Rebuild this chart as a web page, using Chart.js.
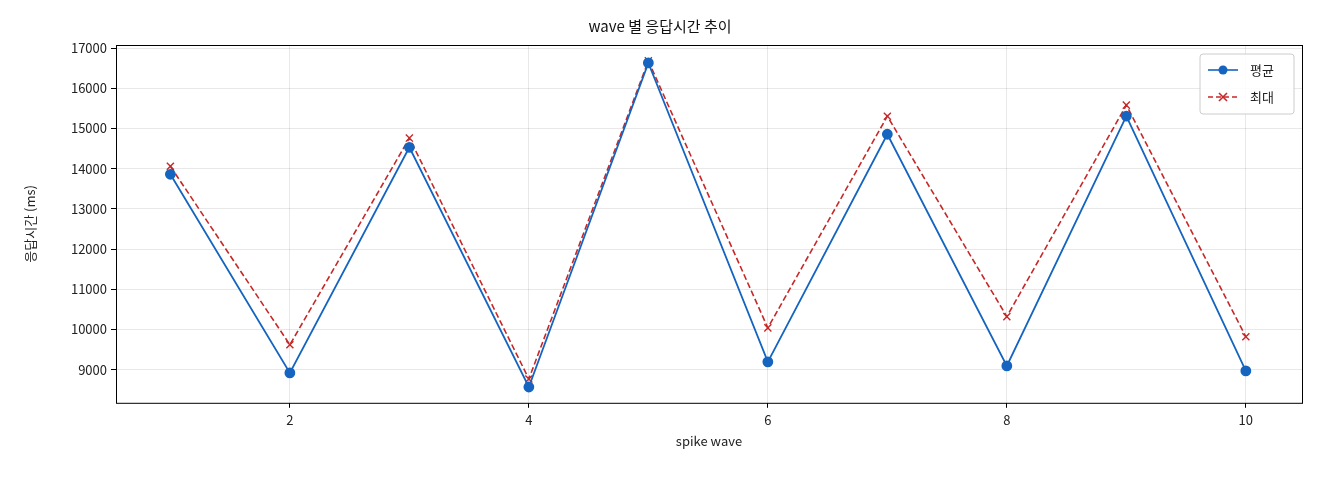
<!DOCTYPE html>
<html><head><meta charset="utf-8">
<script src="https://cdn.jsdelivr.net/npm/chart.js@4"></script>
<style>html,body{margin:0;background:#fff}#w{width:1320px;height:480px}</style>
</head><body><div id="w"><canvas id="c"></canvas></div>
<script>
const waves=[1,2,3,4,5,6,7,8,9,10];
const avgVals=[13860,8920,14530,8570,16630,9195,14855,9095,15305,8970];
const maxVals=[14060,9620,14760,8770,16680,10040,15305,10320,15580,9820];
const xTicks=[2,4,6,8,10];
const yTicks=[9000,10000,11000,12000,13000,14000,15000,16000,17000];
const F="'Noto Sans CJK KR','DejaVu Sans',sans-serif";
Chart.defaults.font.family=F;Chart.defaults.color='#222';
const blue='#1565c0',red='#c62828';
const frame={id:'frame',afterDraw(ch){const a=ch.chartArea,c=ch.ctx;c.save();c.strokeStyle='#000';c.lineWidth=1;c.strokeRect(a.left+.5,a.top+.5,a.right-a.left,a.bottom-a.top);
const bx=a.right-102,by=a.top+9,bw=94,bh=60;c.fillStyle='rgba(255,255,255,0.85)';c.strokeStyle='#ccc';c.beginPath();c.roundRect(bx,by,bw,bh,3);c.fill();c.stroke();
const items=[['평균',blue,[],'o'],['최대',red,[5,3],'x']];
items.forEach((it,i)=>{const y=by+16+i*27;c.strokeStyle=it[1];c.lineWidth=1.6;c.setLineDash(it[2]);c.beginPath();c.moveTo(bx+8,y);c.lineTo(bx+38,y);c.stroke();c.setLineDash([]);
if(it[3]==='o'){c.fillStyle=it[1];c.beginPath();c.arc(bx+23,y,4.5,0,7);c.fill();}else{c.beginPath();c.moveTo(bx+19,y-4);c.lineTo(bx+27,y+4);c.moveTo(bx+27,y-4);c.lineTo(bx+19,y+4);c.stroke();}
c.fillStyle='#222';c.font='13px '+F;c.textBaseline='middle';c.fillText(it[0],bx+50,y);});
c.restore();}};
new Chart(document.getElementById('c'),{type:'line',
data:{datasets:[
{label:'평균',data:waves.map((x,i)=>({x,y:avgVals[i]})),borderColor:blue,backgroundColor:blue,borderWidth:1.8,pointRadius:4.5,pointHoverRadius:4.5,pointStyle:'circle',tension:0},
{label:'최대',data:waves.map((x,i)=>({x,y:maxVals[i]})),borderColor:red,backgroundColor:red,borderWidth:1.6,borderDash:[6,3],pointRadius:5,pointStyle:'crossRot',pointBorderWidth:1.4,tension:0}]},
options:{responsive:true,maintainAspectRatio:false,animation:false,
layout:{padding:{top:13,right:18,bottom:27,left:18}},
plugins:{legend:{display:false},tooltip:{enabled:false},title:{display:true,text:'wave 별 응답시간 추이',font:{size:15,weight:'normal'},color:'#111',padding:{top:4,bottom:10}}},
scales:{
x:{type:'linear',min:0.545,max:10.47,afterBuildTicks(s){s.ticks=xTicks.map(v=>({value:v}));},
grid:{color:'rgba(0,0,0,0.09)',drawTicks:true,tickLength:5,tickColor:'#000'},border:{display:false},
ticks:{font:{size:13},color:'#222',padding:4},title:{display:true,text:'spike wave',font:{size:13},color:'#222',padding:{top:2}}},
y:{min:8177,max:17075,afterBuildTicks(s){s.ticks=yTicks.map(v=>({value:v}));},afterFit(s){s.width=98;},
grid:{color:'rgba(0,0,0,0.09)',tickLength:5,tickColor:'#000'},border:{display:false},
ticks:{font:{size:13},color:'#222',padding:4,callback:v=>String(v)},title:{display:true,text:'응답시간 (ms)',font:{size:13},color:'#222'}}}},
plugins:[frame]});
</script></body></html>
